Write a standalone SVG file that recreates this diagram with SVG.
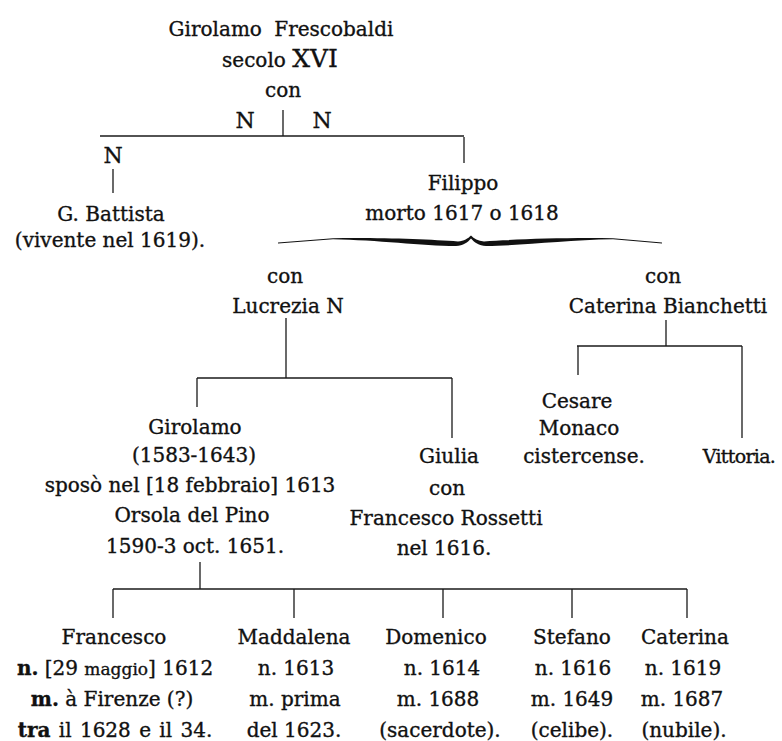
<svg xmlns="http://www.w3.org/2000/svg" width="782" height="741" viewBox="0 0 782 741">
<style>
text{font-family:"DejaVu Serif","Liberation Serif",serif;font-size:20px;fill:#111;stroke:#111;stroke-width:0.35;text-anchor:middle}
.n{font-size:22px}
.xl{font-size:25px}
.sm{font-size:17px}
.b{font-weight:bold}
.v{font-size:19px;letter-spacing:-0.7px}
.c line{stroke:#1a1a1a;stroke-width:1.3}
</style>
<rect width="782" height="741" fill="#fff"/>
<g class="c" id="connectors">
<line x1="283" y1="110" x2="283" y2="136"/>
<line x1="100" y1="136" x2="464" y2="136"/>
<line x1="113" y1="169" x2="113" y2="193"/>
<line x1="464" y1="137" x2="464" y2="163"/>
<path d="M278,242.6 L333,238.3 C380,237.5 430,239.5 458,241.5 C464,241 468,238.5 471,235.5 C474,238.5 478,241 484,241.5 C512,239.5 562,237.5 613,238.3 L662,242.6 L662,243.6 L613,239.3 C565,240 520,246 486,246 C479,246 474,242 471,238.5 C468,242 463,246 456,246 C422,246 377,240 333,239.3 L278,243.6 Z" fill="#111"/>
<line x1="286" y1="318" x2="286" y2="378"/>
<line x1="197" y1="378" x2="452" y2="378"/>
<line x1="197" y1="378" x2="197" y2="407"/>
<line x1="452" y1="378" x2="452" y2="438"/>
<line x1="666" y1="320" x2="666" y2="346"/>
<line x1="577" y1="346" x2="742" y2="346"/>
<line x1="578" y1="346" x2="578" y2="375"/>
<line x1="742" y1="346" x2="742" y2="438"/>
<line x1="200" y1="562" x2="200" y2="589"/>
<line x1="113" y1="589" x2="687" y2="589"/>
<line x1="113" y1="589" x2="113" y2="618"/>
<line x1="294" y1="589" x2="294" y2="618"/>
<line x1="443" y1="589" x2="443" y2="618"/>
<line x1="572" y1="589" x2="572" y2="618"/>
<line x1="687" y1="589" x2="687" y2="618"/>
</g>
<g id="girolamo-sr">
<text x="281" y="36" word-spacing="6">Girolamo Frescobaldi</text>
<text x="280" y="67">secolo <tspan class="xl">XVI</tspan></text>
<text x="283" y="97">con</text>
<text class="n" x="245" y="128">N</text>
<text class="n" x="322" y="128">N</text>
</g>
<g id="n-child">
<text class="n" x="113" y="163">N</text>
</g>
<g id="gbattista">
<text x="111" y="221">G. Battista</text>
<text x="110" y="247">(vivente nel 1619).</text>
</g>
<g id="filippo">
<text x="463" y="190">Filippo</text>
<text x="462" y="220">morto 1617 o 1618</text>
</g>
<g id="lucrezia">
<text x="285" y="283">con</text>
<text x="288" y="313">Lucrezia N</text>
</g>
<g id="caterina-b">
<text x="663" y="283">con</text>
<text x="668" y="313">Caterina Bianchetti</text>
</g>
<g id="girolamo">
<text x="195" y="434">Girolamo</text>
<text x="194" y="462">(1583-1643)</text>
<text x="190" y="492">sposò nel [18 febbraio] 1613</text>
<text x="192" y="522">Orsola del Pino</text>
<text x="195" y="553">1590-3 oct. 1651.</text>
</g>
<g id="giulia">
<text x="449" y="463">Giulia</text>
<text x="447" y="495">con</text>
<text x="446" y="525">Francesco Rossetti</text>
<text x="444" y="555">nel 1616.</text>
</g>
<g id="cesare">
<text x="577" y="408">Cesare</text>
<text x="579" y="435">Monaco</text>
<text x="584" y="463">cistercense.</text>
</g>
<g id="vittoria">
<text class="v" x="739" y="463">Vittoria.</text>
</g>
<g id="francesco">
<text x="114" y="644">Francesco</text>
<text x="115" y="675"><tspan class="b">n.</tspan> [29 <tspan class="sm">maggio</tspan>] 1612</text>
<text x="112" y="706"><tspan class="b">m.</tspan> à Firenze (?)</text>
<text x="115" y="737" word-spacing="2"><tspan class="b">tra</tspan> il 1628 e il 34.</text>
</g>
<g id="maddalena">
<text x="294" y="644">Maddalena</text>
<text x="296" y="675">n. 1613</text>
<text x="295" y="706">m. prima</text>
<text x="294" y="737">del 1623.</text>
</g>
<g id="domenico">
<text x="436" y="644">Domenico</text>
<text x="442" y="675">n. 1614</text>
<text x="438" y="706">m. 1688</text>
<text x="440" y="737">(sacerdote).</text>
</g>
<g id="stefano">
<text x="572" y="644">Stefano</text>
<text x="573" y="675">n. 1616</text>
<text x="572" y="706">m. 1649</text>
<text x="572" y="737">(celibe).</text>
</g>
<g id="caterina">
<text x="685" y="644">Caterina</text>
<text x="683" y="675">n. 1619</text>
<text x="682" y="706">m. 1687</text>
<text x="684" y="737">(nubile).</text>
</g>
</svg>
